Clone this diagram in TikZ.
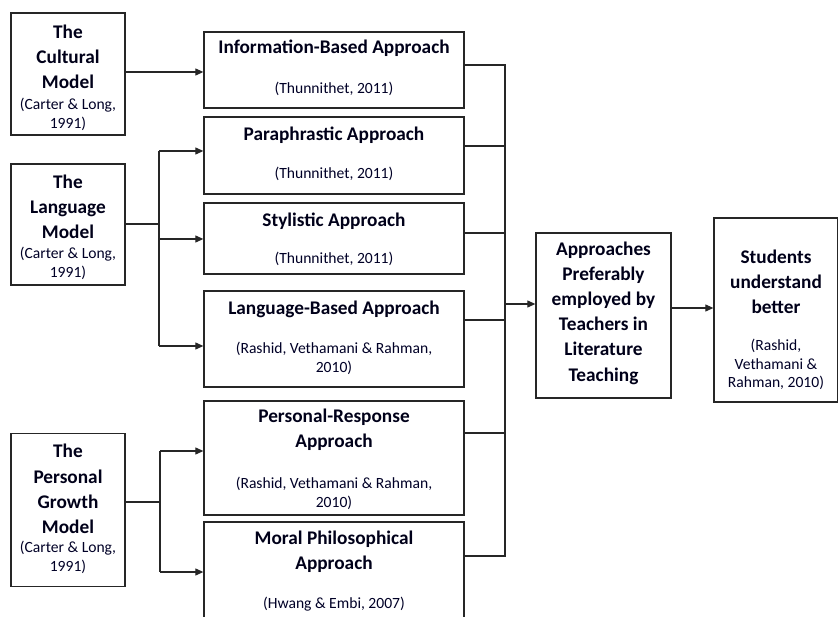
\documentclass[tikz,border=0pt]{standalone}
\usepackage{fontspec}
\setmainfont{Carlito}
\usetikzlibrary{arrows.meta}
\begin{document}
\begin{tikzpicture}[x=1pt,y=-1pt,
  box/.style={draw=black!85, line width=1.3pt, inner sep=0pt},
  ttl/.style={font=\fontsize{19.3}{25.2}\selectfont\bfseries, align=center, text=black!90!blue},
  cite/.style={font=\fontsize{15.6}{18.8}\selectfont, align=center, text=black!85!blue},
  conn/.style={line width=1.1pt, draw=black!85},
  arr/.style={conn, -{Triangle[length=8pt,width=7pt]}}]
\useasboundingbox (0,0) rectangle (838,617);
\clip (0,0) rectangle (838,617);
% left boxes
\node[box, minimum width=114pt, minimum height=122pt] (cult) at (68,74) {};
\node[box, minimum width=114pt, minimum height=121pt] (lang) at (68,224.5) {};
\node[box, minimum width=114pt, minimum height=153pt] (pers) at (68,510) {};
\node[ttl] (cultT) at (68,57) {The\\Cultural\\Model};
\node[cite] (cultC) at (68,114) {(Carter \& Long,\\1991)};
\node[ttl] (langT) at (68,207) {The\\Language\\Model};
\node[cite] (langC) at (68,263) {(Carter \& Long,\\1991)};
\node[ttl] (persT) at (68,489) {The\\Personal\\Growth\\Model};
\node[cite] (persC) at (68,557.5) {(Carter \& Long,\\1991)};
% middle boxes
\node[box, minimum width=260pt, minimum height=76pt] (info) at (334,70) {};
\node[box, minimum width=260pt, minimum height=77pt] (para) at (334,155.5) {};
\node[box, minimum width=260pt, minimum height=71pt] (styl) at (334,238.5) {};
\node[box, minimum width=260pt, minimum height=96pt] (lbas) at (334,339) {};
\node[box, minimum width=260pt, minimum height=114pt] (prsp) at (334,458) {};
\node[box, minimum width=260pt, minimum height=118pt] (moral) at (334,581) {};
\node[ttl] (infoT) at (334,48.5) {Information-Based Approach};
\node[cite] (infoC) at (334,89) {(Thunnithet, 2011)};
\node[ttl] (paraT) at (334,135) {Paraphrastic Approach};
\node[cite] (paraC) at (334,174) {(Thunnithet, 2011)};
\node[ttl] (stylT) at (334,221) {Stylistic Approach};
\node[cite] (stylC) at (334,259) {(Thunnithet, 2011)};
\node[ttl] (lbasT) at (334,309) {Language-Based Approach};
\node[cite] (lbasC) at (334,358.5) {(Rashid, Vethamani \& Rahman,\\2010)};
\node[ttl] (prspT) at (334,430) {Personal-Response\\Approach};
\node[cite] (prspC) at (334,493) {(Rashid, Vethamani \& Rahman,\\2010)};
\node[ttl] (moralT) at (334,551.5) {Moral Philosophical\\Approach};
\node[cite] (moralC) at (334,604) {(Hwang \& Embi, 2007)};
% right boxes
\node[box, minimum width=135pt, minimum height=165pt] (appr) at (603.5,315.5) {};
\node[ttl] (apprT) at (603.5,313) {Approaches\\Preferably\\employed by\\Teachers in\\Literature\\Teaching};
\node[box, minimum width=124pt, minimum height=184pt] (stud) at (776,310) {};
\node[ttl] (studT) at (776,282) {Students\\understand\\better};
\node[cite] (studC) at (776,364.5) {(Rashid,\\Vethamani \&\\Rahman, 2010)};
% coordinates
\coordinate (bus) at (505,0);
\coordinate (lj) at (159,0);
\coordinate (pj) at (160,0);
% cultural
\draw[arr] (cult.east |- 0,72) -- (info.west |- 0,72);
% language
\draw[conn] (lang.east |- 0,224) -- (lj |- 0,224);
\draw[conn] (lj |- 0,151) -- (lj |- 0,346);
\draw[arr] (lj |- 0,151) -- (para.west |- 0,151);
\draw[arr] (lj |- 0,239) -- (styl.west |- 0,239);
\draw[arr] (lj |- 0,346) -- (lbas.west |- 0,346);
% personal
\draw[conn] (pers.east |- 0,502) -- (pj |- 0,502);
\draw[conn] (pj |- 0,451) -- (pj |- 0,572);
\draw[arr] (pj |- 0,451) -- (prsp.west |- 0,451);
\draw[arr] (pj |- 0,572) -- (moral.west |- 0,572);
% bus
\draw[conn] (info.east |- 0,65) -- (bus |- 0,65) -- (bus |- 0,556) -- (moral.east |- 0,556);
\draw[conn] (para.east |- 0,146) -- (bus |- 0,146);
\draw[conn] (styl.east |- 0,233) -- (bus |- 0,233);
\draw[conn] (lbas.east |- 0,320) -- (bus |- 0,320);
\draw[conn] (prsp.east |- 0,433) -- (bus |- 0,433);
\draw[arr] (bus |- 0,304) -- (appr.west |- 0,304);
\draw[arr] (appr.east |- 0,308) -- (stud.west |- 0,308);
\end{tikzpicture}
\end{document}
